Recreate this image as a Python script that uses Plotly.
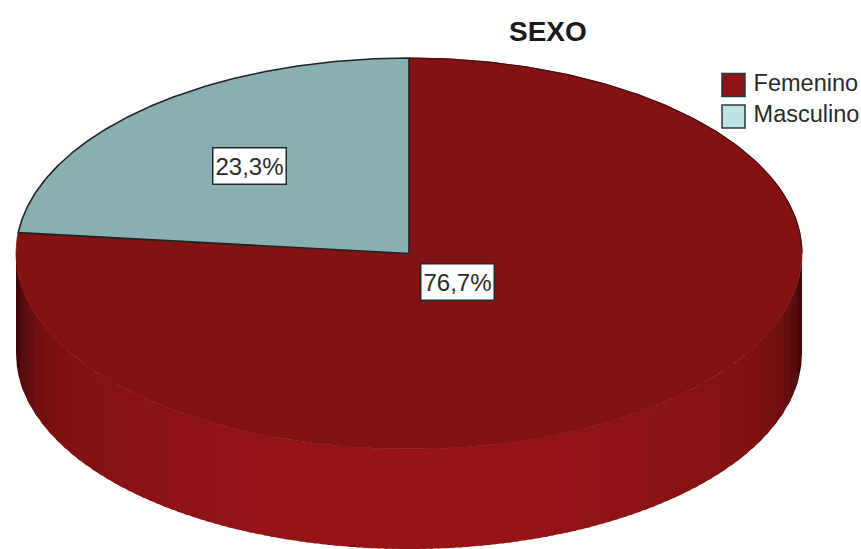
import numpy as np
import plotly.graph_objects as go

categories = ["Femenino", "Masculino"]
percent_values = [76.7, 23.3]
percent_labels = ["76,7%", "23,3%"]
chart_title = "SEXO"

W, H = 861, 549
CX, CY, RX, RY, DEPTH = 409, 253.5, 393, 195.5, 100
TOP_COLORS = {"Femenino": "#831213", "Masculino": "#8aafb2"}
LEGEND_COLORS = {"Femenino": "#8f1216", "Masculino": "#bde3e3"}
LABEL_POS = {"Femenino": (457.5, 281.5), "Masculino": (249, 166)}


def ell(theta):
    """theta: radians clockwise from the top of the ellipse."""
    return CX + RX * np.sin(theta), CY - RY * np.cos(theta)


def side_colour(u):
    # u in -1..1 from left tangent to right tangent of the front wall
    edge = abs(u)
    k = 1 - 0.45 * edge ** 24 - 0.2 * edge ** 2
    return f"rgb({int(152 * k)},{int(21 * k)},{int(23 * k)})"


fig = go.Figure()

# Front wall: only the Femenino slice is visible along the front half.
# Strips are uniform in x, painted from the tangents inward, slightly overlapping.
n_strips = 110
u_edges = np.linspace(-1, 1, n_strips + 1)
du = u_edges[1] - u_edges[0]
order = sorted(range(n_strips), key=lambda i: -abs(u_edges[i] + du / 2))
for i in order:
    mid = u_edges[i] + du / 2
    if mid < 0:
        u = np.linspace(u_edges[i] - 0.4 * du, u_edges[i + 1], 12)
    else:
        u = np.linspace(u_edges[i], u_edges[i + 1] + 0.4 * du, 12)
    u = np.clip(u, -1, 1)
    a = np.pi - np.arcsin(u)
    x, y = ell(a)
    fig.add_trace(go.Scatter(
        x=np.r_[x, x[::-1]], y=np.r_[y, y[::-1] + DEPTH],
        mode="lines", fill="toself", line=dict(width=0),
        fillcolor=side_colour(mid),
        hoverinfo="skip", showlegend=False))

# Top face: Femenino runs clockwise from 12 o'clock, Masculino closes the circle
start = 0.0
for cat, val in zip(categories, percent_values):
    sweep = val / sum(percent_values) * 2 * np.pi
    a = np.linspace(start, start + sweep, 240)
    x, y = ell(a)
    fig.add_trace(go.Scatter(
        x=np.r_[CX, x, CX], y=np.r_[CY, y, CY],
        mode="lines", fill="toself", fillcolor=TOP_COLORS[cat],
        line=dict(width=1.6 if cat == "Masculino" else 0.8,
                  color="#222222" if cat == "Masculino" else TOP_COLORS[cat]),
        name=cat, showlegend=False, hovertemplate=f"{cat}: {val}%<extra></extra>"))
    start += sweep

# Dark rim along the back of the Femenino slice
a = np.linspace(0, np.pi / 2, 120)
x, y = ell(a)
fig.add_trace(go.Scatter(x=x, y=y, mode="lines", hoverinfo="skip", showlegend=False,
                         line=dict(width=1.2, color="#4a0d0d")))

# Legend rows
fig.add_trace(go.Scatter(
    x=[733.5, 733.5], y=[85, 116.5], mode="markers+text",
    marker=dict(symbol="square", size=23,
                color=[LEGEND_COLORS[c] for c in categories],
                line=dict(width=1.5, color="#243c3c")),
    text=["\u2009" + c for c in categories], textposition="middle right",
    textfont=dict(family="Liberation Sans", size=23.5, color="#2a2a2a"),
    hoverinfo="skip", showlegend=False, cliponaxis=False))

annotations = [dict(
    x=LABEL_POS[c][0], y=LABEL_POS[c][1], text=l, showarrow=False,
    width=70, height=33, align="center", valign="middle",
    font=dict(family="Liberation Sans", size=24, color="#2b2b2b"),
    bgcolor="white", bordercolor="#1f2a2a", borderwidth=1.5, borderpad=1,
) for c, l in zip(categories, percent_labels)]
annotations.append(dict(
    x=547.5, y=31.5, text=f"<b>{chart_title}</b>", showarrow=False,
    font=dict(family="Liberation Sans", size=28, color="#1a1a1a")))

fig.update_layout(
    width=W, height=H, margin=dict(l=0, r=0, t=0, b=0),
    paper_bgcolor="white", plot_bgcolor="white",
    xaxis=dict(range=[0, W], visible=False, fixedrange=True),
    yaxis=dict(range=[H, 0], visible=False, fixedrange=True),
    annotations=annotations, showlegend=False)
fig.write_html("out.html", config={"displayModeBar": False},
               post_script="document.body.style.margin='0';document.body.style.overflow='hidden';")
